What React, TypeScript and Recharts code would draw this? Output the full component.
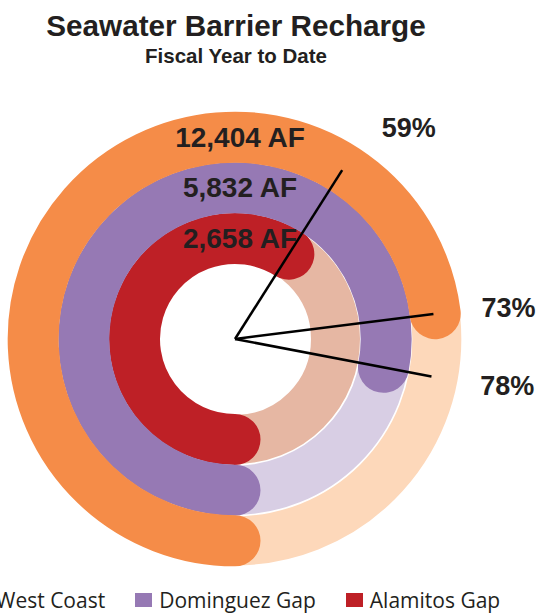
import React from 'react';
import { RadialBarChart, RadialBar, PolarAngleAxis, Legend } from 'recharts';

// inner ring first, outer ring last
const barriers = ['Alamitos Gap', 'Dominguez Gap', 'West Coast'];
const percentOfGoal = [59, 78, 73];
const acreFeet = ['2,658 AF', '5,832 AF', '12,404 AF'];
const barColors = ['#BE2026', '#9679B4', '#F58C48'];
const trackColors = ['#E6B7A3', '#D8CEE4', '#FDD8BA'];

const data = barriers.map((name, i) => ({
  name,
  value: percentOfGoal[i],
  af: acreFeet[i],
  fill: barColors[i],
  track: trackColors[i],
}));

const RADIAN = Math.PI / 180;
const CX = 235;
const CY = 339;
const INNER = 75;
const OUTER = 227;
const START = -90;
const END = -450;
const TEXT = '#231F20';
const FONT = '"Liberation Sans", Arial, sans-serif';

const polar = (cx: number, cy: number, r: number, angle: number) => ({
  x: cx + r * Math.cos(-angle * RADIAN),
  y: cy + r * Math.sin(-angle * RADIAN),
});

// track ring + arc with round caps (caps overshoot the angle like a stroked line)
const RingShape = (props: any) => {
  const { cx, cy, innerRadius, outerRadius, startAngle, endAngle } = props;
  const payload = props.payload ?? {};
  const r = (innerRadius + outerRadius) / 2;
  const w = outerRadius - innerRadius;
  const s = polar(cx, cy, r, startAngle);
  const e = polar(cx, cy, r, endAngle);
  const large = Math.abs(endAngle - startAngle) > 180 ? 1 : 0;
  const sweep = endAngle < startAngle ? 1 : 0;
  return (
    <g>
      <circle cx={cx} cy={cy} r={r} fill="none" stroke={payload.track ?? props.track} strokeWidth={w - 2} />
      <path
        d={`M${s.x},${s.y} A${r},${r} 0 ${large} ${sweep} ${e.x},${e.y}`}
        fill="none"
        stroke={payload.fill ?? props.fill}
        strokeWidth={w}
        strokeLinecap="round"
      />
    </g>
  );
};

const renderLabel = (props: any) => {
  const { viewBox, value } = props;
  const i = props.index ?? data.findIndex((d) => d.value === value);
  const cx = viewBox?.cx ?? CX;
  const cy = viewBox?.cy ?? CY;
  const angle = viewBox?.endAngle ?? START + (value / 100) * (END - START);
  const inner = viewBox?.innerRadius ?? INNER;
  const outer = viewBox?.outerRadius ?? OUTER;
  const lineEnd = polar(cx, cy, 200, angle);
  const lp = polar(cx, cy, 250, angle);
  const vert = Math.abs(Math.sin(angle * RADIAN));
  const mid = polar(cx, cy, (inner + outer) / 2, 90);
  return (
    <g>
      <line x1={cx} y1={cy} x2={lineEnd.x} y2={lineEnd.y} stroke="#000" strokeWidth={2.5} />
      <text
        x={lp.x - 4 + 20 * vert}
        y={lp.y}
        textAnchor="start"
        dominantBaseline="central"
        fontFamily={FONT}
        fontWeight="bold"
        fontSize={27}
        fill={TEXT}
      >
        {`${value}%`}
      </text>
      <text
        x={mid.x + 5}
        y={mid.y}
        textAnchor="middle"
        dominantBaseline="central"
        fontFamily={FONT}
        fontWeight="bold"
        fontSize={28}
        fill={TEXT}
      >
        {data[i]?.af}
      </text>
    </g>
  );
};

const renderLegend = (props: any) => {
  let items = (props.payload ?? []).map((it: any) => ({
    name: it.value ?? it.payload?.name,
    color: it.payload?.fill ?? it.color,
  }));
  if (!items.length) items = data.map((d) => ({ name: d.name, color: d.fill }));
  items = [...items].reverse();
  return (
    <div
      style={{
        display: 'flex',
        alignItems: 'center',
        fontFamily: '"Open Sans", sans-serif',
        fontSize: 21,
        lineHeight: '24px',
        color: TEXT,
        whiteSpace: 'nowrap',
      }}
    >
      {items.map((it: any) => (
        <span key={it.name} style={{ display: 'flex', alignItems: 'center', marginRight: 30 }}>
          <span style={{ display: 'inline-block', width: 17, height: 14, background: it.color, marginRight: 7 }} />
          {it.name}
        </span>
      ))}
    </div>
  );
};

export default function App() {
  return (
    <div style={{ position: 'absolute', left: 0, top: 0, width: 548, height: 613, background: '#fff', overflow: 'hidden' }}>
      <svg width={548} height={80} style={{ position: 'absolute', left: 0, top: 0 }}>
        <text x={236} y={36} textAnchor="middle" fontFamily={FONT} fontWeight="bold" fontSize={29.7} fill={TEXT}>
          Seawater Barrier Recharge
        </text>
        <text x={236} y={63} textAnchor="middle" fontFamily={FONT} fontWeight="bold" fontSize={20.5} fill={TEXT}>
          Fiscal Year to Date
        </text>
      </svg>
      <div style={{ position: 'absolute', left: 0, top: 0 }}>
        <RadialBarChart
          width={548}
          height={613}
          cx={CX}
          cy={CY}
          innerRadius={INNER}
          outerRadius={OUTER}
          startAngle={START}
          endAngle={END}
          data={data}
          barCategoryGap={0}
          margin={{ top: 0, right: 0, bottom: 0, left: 0 }}
        >
          <PolarAngleAxis type="number" domain={[0, 100]} tick={false} axisLine={false} />
          <RadialBar dataKey="value" isAnimationActive={false} shape={RingShape} label={renderLabel} />
          <Legend
            verticalAlign="bottom"
            content={renderLegend}
            wrapperStyle={{ left: -28, top: 588, bottom: 'auto', width: 576 }}
          />
        </RadialBarChart>
      </div>
    </div>
  );
}
